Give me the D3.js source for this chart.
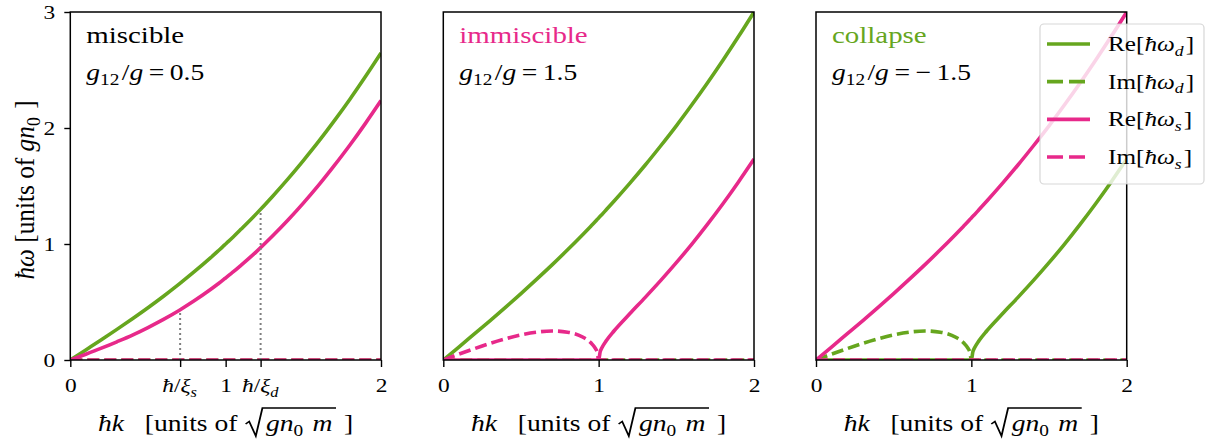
<!DOCTYPE html>
<html>
<head>
<meta charset="utf-8">
<script src="https://cdn.jsdelivr.net/npm/d3@7"></script>
<style>
  html, body { margin: 0; padding: 0; background: #fff; }
  svg { display: block; }
  text { font-family: "Liberation Serif", "Times New Roman", serif; fill: #000; white-space: pre; }
</style>
</head>
<body>
<svg id="fig" width="1208" height="446"></svg>
<script>
// Wavenumber grid ħk in units of sqrt(g n0 m), denser around the k = 1 branch point
const k = [0, 0.1, 0.2, 0.3, 0.4, 0.5, 0.6, 0.7, 0.8, 0.9, 0.95, 0.98, 0.99, 1.0, 1.01, 1.02, 1.05, 1.1, 1.2, 1.3, 1.4, 1.5, 1.6, 1.7, 1.8, 1.9, 2.0];

// Miscible mixture, g12/g = 0.5  (ħω in units of g n0)
const misReD = [0, 0.087, 0.174, 0.264, 0.356, 0.451, 0.550, 0.654, 0.763, 0.878, 0.938, 0.975, 0.988, 1.000, 1.013, 1.025, 1.063, 1.129, 1.264, 1.408, 1.559, 1.719, 1.886, 2.063, 2.248, 2.443, 2.646];
const misImD = [0, 0, 0, 0, 0, 0, 0, 0, 0, 0, 0, 0, 0, 0, 0, 0, 0, 0, 0, 0, 0, 0, 0, 0, 0, 0, 0];
const misReS = [0, 0.050, 0.102, 0.157, 0.215, 0.280, 0.350, 0.427, 0.512, 0.605, 0.655, 0.686, 0.697, 0.707, 0.718, 0.729, 0.761, 0.818, 0.937, 1.066, 1.204, 1.352, 1.509, 1.677, 1.853, 2.040, 2.236];
const misImS = [0, 0, 0, 0, 0, 0, 0, 0, 0, 0, 0, 0, 0, 0, 0, 0, 0, 0, 0, 0, 0, 0, 0, 0, 0, 0, 0];

// Immiscible mixture, g12/g = 1.5
const immReD = [0, 0.112, 0.225, 0.338, 0.454, 0.573, 0.695, 0.820, 0.950, 1.085, 1.154, 1.196, 1.211, 1.225, 1.239, 1.253, 1.297, 1.371, 1.523, 1.681, 1.847, 2.019, 2.200, 2.388, 2.584, 2.788, 3.000];
const immImD = [0, 0, 0, 0, 0, 0, 0, 0, 0, 0, 0, 0, 0, 0, 0, 0, 0, 0, 0, 0, 0, 0, 0, 0, 0, 0, 0];
const immReS = [0, 0, 0, 0, 0, 0, 0, 0, 0, 0, 0, 0, 0, 0, 0.072, 0.103, 0.168, 0.252, 0.398, 0.540, 0.686, 0.839, 0.999, 1.169, 1.347, 1.535, 1.732];
const immImS = [0, 0.050, 0.098, 0.143, 0.183, 0.217, 0.240, 0.250, 0.240, 0.196, 0.148, 0.098, 0.070, 0, 0, 0, 0, 0, 0, 0, 0, 0, 0, 0, 0, 0, 0];

// Collapsing mixture, g12/g = -1.5
const colReD = [0, 0, 0, 0, 0, 0, 0, 0, 0, 0, 0, 0, 0, 0, 0.072, 0.103, 0.168, 0.252, 0.398, 0.540, 0.686, 0.839, 0.999, 1.169, 1.347, 1.535, 1.732];
const colImD = [0, 0.050, 0.098, 0.143, 0.183, 0.217, 0.240, 0.250, 0.240, 0.196, 0.148, 0.098, 0.070, 0, 0, 0, 0, 0, 0, 0, 0, 0, 0, 0, 0, 0, 0];
const colReS = [0, 0.112, 0.225, 0.338, 0.454, 0.573, 0.695, 0.820, 0.950, 1.085, 1.154, 1.196, 1.211, 1.225, 1.239, 1.253, 1.297, 1.371, 1.523, 1.681, 1.847, 2.019, 2.200, 2.388, 2.584, 2.788, 3.000];
const colImS = [0, 0, 0, 0, 0, 0, 0, 0, 0, 0, 0, 0, 0, 0, 0, 0, 0, 0, 0, 0, 0, 0, 0, 0, 0, 0, 0];

// Healing-length markers in the miscible panel: ħ/ξ and the mode energy reached there
const healK = [0.707, 1.225];
const healTop = [0.433, 1.300];

// Tick values and labels
const yTicks = [0, 1, 2, 3];
const xTicks = [0, 1, 2];
const misXTicks = [0, 0.707, 1, 1.225, 2];
const misXTickLabels = ["0", "ħ/ξ_s", "1", "ħ/ξ_d", "2"];

// Panel titles and coupling ratios
const titles = ["miscible", "immiscible", "collapse"];
const ratios = ["0.5", "1.5", "\u2212\u20091.5"];

// Series order and legend entries
const seriesKeys = ["ReD", "ImD", "ReS", "ImS"];
const legendPrefix = ["Re", "Im", "Re", "Im"];
const legendSub = ["d", "d", "s", "s"];

const GREEN = "#66a61e", PINK = "#e7298a";
const seriesStyle = {
  ReD: { color: GREEN, dash: null },
  ImD: { color: GREEN, dash: "12,5" },
  ReS: { color: PINK, dash: null },
  ImS: { color: PINK, dash: "12,5" }
};
const titleColors = ["#000", PINK, GREEN];

const panelData = [
  { ReD: misReD, ImD: misImD, ReS: misReS, ImS: misImS },
  { ReD: immReD, ImD: immImD, ReS: immReS, ImS: immImS },
  { ReD: colReD, ImD: colImD, ReS: colReS, ImS: colImS }
];

// Layout
const SX = 1.2;                 // horizontal glyph stretch
const LW = 3.6;                 // curve width
const lefts = [70.3, 443.3, 816];
const pw = 310.7;
const plotTop = 12, plotBottom = 360;

const svg = d3.select("#fig");
const y = d3.scaleLinear().domain([0, 3]).range([plotBottom, plotTop]);

function addSub(t, s, size, italic) {
  t.append("tspan").attr("dy", size * 0.22).style("font-size", (size * 0.7) + "px")
    .style("font-style", italic ? "italic" : "normal").text(s);
  t.append("tspan").attr("dy", -size * 0.22).text("\u200a");
}

panelData.forEach((data, pi) => {
  const x0 = lefts[pi];
  const x = d3.scaleLinear().domain([0, 2]).range([0, pw]);
  const g = svg.append("g").attr("transform", `translate(${x0},0)`);

  const clipId = "clip" + pi;
  g.append("clipPath").attr("id", clipId)
    .append("rect").attr("x", 0).attr("y", plotTop).attr("width", pw).attr("height", plotBottom - plotTop);

  const plot = g.append("g").attr("clip-path", `url(#${clipId})`);
  const line = d3.line().x((d, i) => x(k[i])).y(d => y(d)).curve(d3.curveMonotoneX);

  // dispersion branches
  seriesKeys.forEach(key => {
    const st = seriesStyle[key];
    plot.append("path").datum(data[key])
      .attr("d", line)
      .attr("fill", "none")
      .attr("stroke", st.color)
      .attr("stroke-width", LW)
      .attr("stroke-dasharray", st.dash)
      .attr("stroke-linejoin", "round");
  });

  // dotted healing-length markers
  if (pi === 0) {
    healK.forEach((hk, i) => {
      plot.append("line")
        .attr("x1", x(hk)).attr("x2", x(hk))
        .attr("y1", y(0)).attr("y2", y(healTop[i]))
        .attr("stroke", "#7f7f7f").attr("stroke-width", 2)
        .attr("stroke-dasharray", "2,3");
    });
  }

  // frame
  g.append("rect").attr("x", 0).attr("y", plotTop).attr("width", pw).attr("height", plotBottom - plotTop)
    .attr("fill", "none").attr("stroke", "#000").attr("stroke-width", 1.5);

  // x axis
  const ticks = pi === 0 ? misXTicks : xTicks;
  const xAxis = d3.axisBottom(x).tickValues(ticks).tickSize(7).tickPadding(11.5)
    .tickFormat((d, i) => pi === 0 ? misXTickLabels[i] : d3.format("d")(d));
  const xa = g.append("g").attr("transform", `translate(0,${plotBottom})`).call(xAxis);
  xa.attr("font-family", null).attr("font-size", null);
  xa.select(".domain").remove();
  xa.selectAll(".tick line").attr("stroke", "#000").attr("stroke-width", 1.4);
  xa.selectAll(".tick text")
    .style("font-size", "19.5px").attr("fill", "#000")
    .attr("transform", `scale(${SX},1)`)
    .each(function () {
      const t = d3.select(this);
      const s = t.text();
      if (s.includes("/")) {
        const sub = s.split("_")[1];
        t.text("");
        t.append("tspan").style("font-style", "italic").text("ħ");
        t.append("tspan").text("/");
        t.append("tspan").style("font-style", "italic").text("ξ");
        addSub(t, sub, 19.5, true);
      }
    });

  // y axis (left panel only)
  if (pi === 0) {
    const ya = g.append("g").call(d3.axisLeft(y).tickValues(yTicks).tickSize(6).tickPadding(6.5).tickFormat(d3.format("d")));
    ya.attr("font-family", null).attr("font-size", null);
    ya.select(".domain").remove();
    ya.selectAll(".tick line").attr("stroke", "#000").attr("stroke-width", 1.4);
    ya.selectAll(".tick text").style("font-size", "19.5px").attr("fill", "#000")
      .attr("transform", `scale(${SX},1)`);
  }

  // titles
  g.append("g").attr("transform", `translate(16,43) scale(${SX + 0.03},1)`)
    .append("text").style("font-size", "23.5px").style("fill", titleColors[pi]).text(titles[pi]);

  const rt = g.append("g").attr("transform", `translate(16,80) scale(${SX},1)`)
    .append("text").style("font-size", "23px");
  rt.append("tspan").style("font-style", "italic").text("g");
  addSub(rt, "12", 23, false);
  rt.append("tspan").text("/");
  rt.append("tspan").style("font-style", "italic").text("g");
  rt.append("tspan").text("\u2009=\u2009" + ratios[pi]);

  // x label with radical
  const xl = g.append("g");
  const inner = xl.append("g");
  const fs = 23;
  const t1 = inner.append("text").style("font-size", fs + "px");
  t1.append("tspan").style("font-style", "italic").text("ħk");
  t1.append("tspan").text("\u2002 [units of ");
  const w1 = t1.node().getComputedTextLength();
  const t2 = inner.append("text").attr("x", w1 + 18).style("font-size", fs + "px");
  t2.append("tspan").style("font-style", "italic").text("gn");
  addSub(t2, "0", fs, false);
  t2.append("tspan").style("font-style", "italic").text(" m");
  const w2 = t2.node().getComputedTextLength();
  const barEnd = w1 + 18 + w2 + 3;
  inner.append("path")
    .attr("d", `M${w1 + 1},-7 L${w1 + 4},-9.5 L${w1 + 9.5},5 L${w1 + 15},-23 H${barEnd}`)
    .attr("fill", "none").attr("stroke", "#000").attr("stroke-width", 1.5)
    .attr("stroke-linejoin", "miter");
  const t3 = inner.append("text").attr("x", barEnd + 1).style("font-size", fs + "px").text(" ]");
  const total = barEnd + 1 + t3.node().getComputedTextLength();
  xl.attr("transform", `translate(${pw / 2 - total * SX / 2},431) scale(${SX},1)`);
});

// y label
const yl = svg.append("g").attr("transform", `translate(34,${(plotTop + plotBottom) / 2 + 4}) scale(${SX},1.1) rotate(-90)`)
  .append("text").attr("text-anchor", "middle").style("font-size", "23px");
yl.append("tspan").style("font-style", "italic").text("ħω");
yl.append("tspan").text(" [units of ");
yl.append("tspan").style("font-style", "italic").text("gn");
addSub(yl, "0", 23, false);
yl.append("tspan").text(" ]");

// legend
const lg = svg.append("g");
lg.append("rect").attr("x", 1040).attr("y", 24).attr("width", 164).attr("height", 160)
  .attr("rx", 4).attr("fill", "#fff").attr("fill-opacity", 0.8)
  .attr("stroke", "#cccccc").attr("stroke-opacity", 0.8).attr("stroke-width", 1.2);
const rowY = d3.scalePoint().domain(seriesKeys).range([44, 157]);
seriesKeys.forEach((key, i) => {
  const st = seriesStyle[key];
  const ry = rowY(key);
  lg.append("line").attr("x1", 1047).attr("x2", 1090).attr("y1", ry).attr("y2", ry)
    .attr("stroke", st.color).attr("stroke-width", LW)
    .attr("stroke-dasharray", st.dash ? "16,6" : null);
  const t = lg.append("g").attr("transform", `translate(1108,${ry + 7}) scale(${SX},1)`)
    .append("text").style("font-size", "21px");
  t.append("tspan").text(legendPrefix[i] + "[");
  t.append("tspan").style("font-style", "italic").text("ħω");
  addSub(t, legendSub[i], 21, true);
  t.append("tspan").text("]");
});
</script>
</body>
</html>
